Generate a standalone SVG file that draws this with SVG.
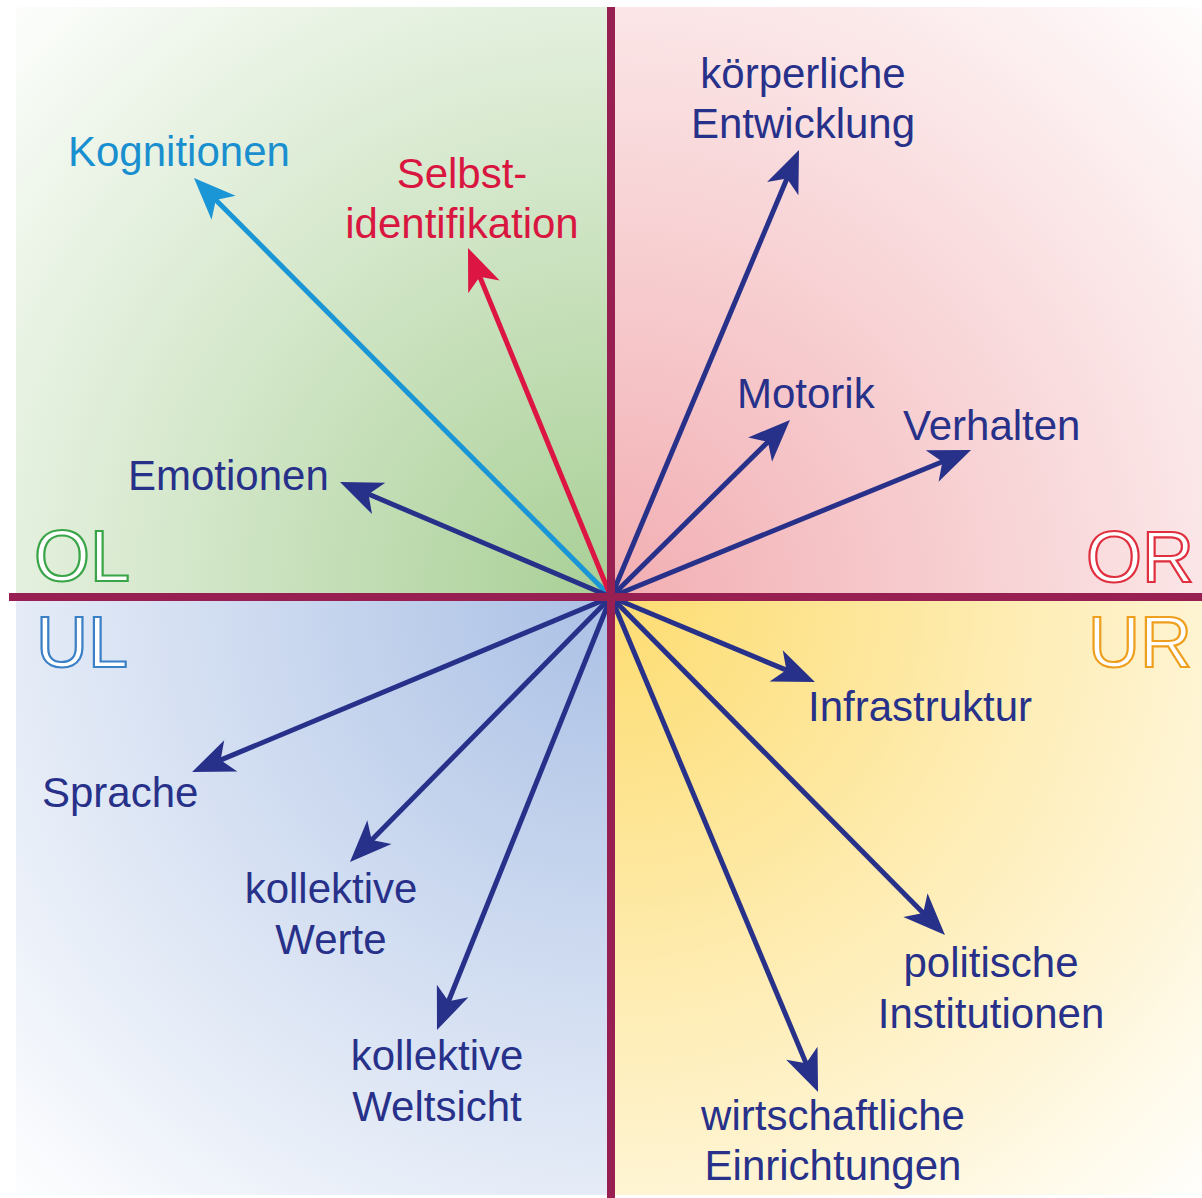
<svg xmlns="http://www.w3.org/2000/svg" width="1202" height="1198" viewBox="0 0 1202 1198">
<defs>
<radialGradient id="gOL" gradientUnits="userSpaceOnUse" cx="611" cy="597" r="860"><stop offset="0" stop-color="#a8cf95"/><stop offset="1" stop-color="#ffffff"/></radialGradient>
<radialGradient id="gOR" gradientUnits="userSpaceOnUse" cx="611" cy="597" r="860"><stop offset="0" stop-color="#f2aeb2"/><stop offset="1" stop-color="#ffffff"/></radialGradient>
<radialGradient id="gUL" gradientUnits="userSpaceOnUse" cx="611" cy="597" r="860"><stop offset="0" stop-color="#aac0e5"/><stop offset="1" stop-color="#ffffff"/></radialGradient>
<radialGradient id="gUR" gradientUnits="userSpaceOnUse" cx="611" cy="597" r="860"><stop offset="0" stop-color="#fddc70"/><stop offset="1" stop-color="#ffffff"/></radialGradient>
<marker id="hNavy" markerUnits="userSpaceOnUse" orient="auto" refX="0" refY="0" markerWidth="60" markerHeight="40" overflow="visible"><path d="M25,0 L-17,-17 L-6,0 L-17,17 Z" fill="#28318a"/></marker>
<marker id="hCyan" markerUnits="userSpaceOnUse" orient="auto" refX="0" refY="0" markerWidth="60" markerHeight="40" overflow="visible"><path d="M25,0 L-17,-17 L-6,0 L-17,17 Z" fill="#1a95d5"/></marker>
<marker id="hRed" markerUnits="userSpaceOnUse" orient="auto" refX="0" refY="0" markerWidth="60" markerHeight="40" overflow="visible"><path d="M25,0 L-17,-17 L-6,0 L-17,17 Z" fill="#dc1543"/></marker>
</defs>
<style>
.lbl{font-family:"Liberation Sans",Arial,sans-serif;font-size:42px;fill:#28318a}
.q{font-family:"Liberation Sans",Arial,sans-serif;font-size:72px;fill:#ffffff;stroke-width:2.2}
.arr{stroke-width:5;fill:none;stroke:#28318a;marker-end:url(#hNavy)}
.axis{stroke:#971f52;stroke-width:8}
</style>
<rect width="1202" height="1198" fill="#ffffff"/>
<g id="quadrants">
<rect x="16" y="7" width="595" height="590" fill="url(#gOL)"/>
<rect x="611" y="7" width="591" height="590" fill="url(#gOR)"/>
<rect x="16" y="597" width="595" height="598" fill="url(#gUL)"/>
<rect x="611" y="597" width="591" height="598" fill="url(#gUR)"/>
</g>
<g id="quadrant-labels">
<text class="q" x="34" y="581" stroke="#3aa548">OL</text>
<text class="q" x="1194" y="582" text-anchor="end" stroke="#e0303f">OR</text>
<text class="q" x="36" y="667" stroke="#3b80c6">UL</text>
<text class="q" x="1192" y="667" text-anchor="end" stroke="#ef9f1e">UR</text>
</g>
<g id="connectors">
<line class="arr" x1="611" y1="597" x2="211.6" y2="195.7" style="stroke:#1a95d5;marker-end:url(#hCyan)"/>
<line class="arr" x1="611" y1="597" x2="477.5" y2="271.1" style="stroke:#dc1543;marker-end:url(#hRed)"/>
<line class="arr" x1="611" y1="597" x2="363" y2="491.8"/>
<line class="arr" x1="611" y1="597" x2="789.3" y2="173"/>
<line class="arr" x1="611" y1="597" x2="772.2" y2="437.6"/>
<line class="arr" x1="611" y1="597" x2="947.9" y2="459.5"/>
<line class="arr" x1="611" y1="597" x2="791.9" y2="672.4"/>
<line class="arr" x1="611" y1="597" x2="215.1" y2="762.4"/>
<line class="arr" x1="611" y1="597" x2="367.5" y2="844.2"/>
<line class="arr" x1="611" y1="597" x2="446.3" y2="1006.8"/>
<line class="arr" x1="611" y1="597" x2="927.4" y2="917.2"/>
<line class="arr" x1="611" y1="597" x2="808.4" y2="1068.9"/>
</g>
<g id="axes">
<line class="axis" x1="9" y1="597" x2="1202" y2="597"/>
<line class="axis" x1="611" y1="7" x2="611" y2="1198"/>
</g>
<g id="node-kognitionen"><text class="lbl" x="68" y="166" style="fill:#1a8fd0">Kognitionen</text></g>
<g id="node-selbstidentifikation"><text class="lbl" x="462" y="188" text-anchor="middle" style="fill:#d8163f">Selbst-</text><text class="lbl" x="462" y="238" text-anchor="middle" style="fill:#d8163f">identifikation</text></g>
<g id="node-emotionen"><text class="lbl" x="128" y="490">Emotionen</text></g>
<g id="node-koerperliche"><text class="lbl" x="803" y="88" text-anchor="middle">körperliche</text><text class="lbl" x="803" y="138" text-anchor="middle">Entwicklung</text></g>
<g id="node-motorik"><text class="lbl" x="737" y="408">Motorik</text></g>
<g id="node-verhalten"><text class="lbl" x="903" y="440">Verhalten</text></g>
<g id="node-infrastruktur"><text class="lbl" x="808" y="721">Infrastruktur</text></g>
<g id="node-sprache"><text class="lbl" x="42" y="807">Sprache</text></g>
<g id="node-werte"><text class="lbl" x="331" y="903" text-anchor="middle">kollektive</text><text class="lbl" x="331" y="954" text-anchor="middle">Werte</text></g>
<g id="node-weltsicht"><text class="lbl" x="437" y="1070" text-anchor="middle">kollektive</text><text class="lbl" x="437" y="1121" text-anchor="middle">Weltsicht</text></g>
<g id="node-politische"><text class="lbl" x="991" y="977" text-anchor="middle">politische</text><text class="lbl" x="991" y="1028" text-anchor="middle">Institutionen</text></g>
<g id="node-wirtschaftliche"><text class="lbl" x="833" y="1130" text-anchor="middle">wirtschaftliche</text><text class="lbl" x="833" y="1180" text-anchor="middle">Einrichtungen</text></g>
</svg>
